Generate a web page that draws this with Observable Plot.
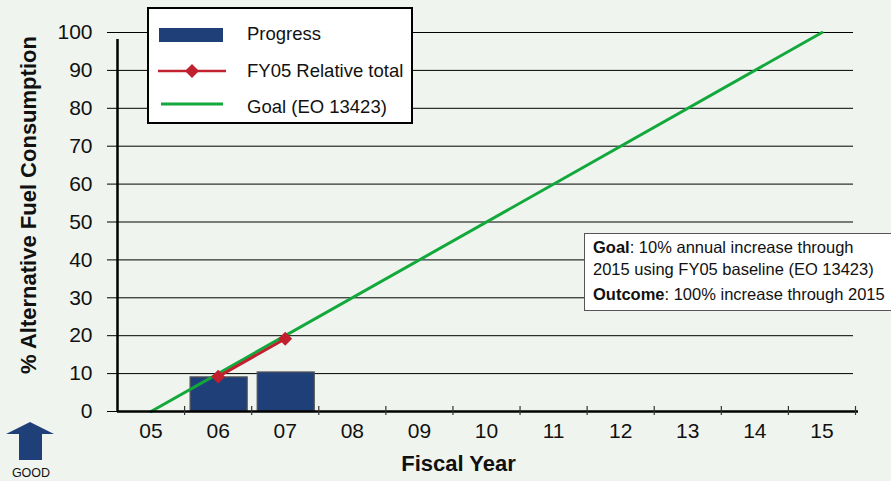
<!DOCTYPE html>
<html>
<head>
<meta charset="utf-8">
<script src="https://cdn.jsdelivr.net/npm/d3@7"></script>
<script src="https://cdn.jsdelivr.net/npm/@observablehq/plot@0.6"></script>
<style>
  html, body { margin: 0; padding: 0; background: #eff5ee; }
  body { width: 891px; height: 481px; overflow: hidden; font-family: "Liberation Sans", Arial, sans-serif; }
  #wrap { position: relative; width: 891px; height: 481px; }
  #legend { position: absolute; left: 147px; top: 7px; width: 266px; height: 117px; box-sizing: border-box;
    border: 2px solid #000; background: #fff; font-size: 18.5px; color: #111; }
  .li { position: absolute; left: 0; display: flex; align-items: center; }
  .li svg { display: block; }
  .li span { position: absolute; left: 98px; white-space: nowrap; }
  #note { position: absolute; left: 584px; top: 233px; width: 330px; height: 78px; box-sizing: border-box;
    border: 1.5px solid #555; background: #fff; font-size: 16.5px; color: #111; }
  #note div { position: absolute; left: 8px; white-space: nowrap; }
  #good { position: absolute; left: 4px; top: 420px; width: 54px; text-align: center; font-size: 12.5px; color: #111; }
</style>
</head>
<body>
<div id="wrap"></div>
<script>
// ---- data ----
const years = [5, 6, 7, 8, 9, 10, 11, 12, 13, 14, 15];
const yearLabels = ["05", "06", "07", "08", "09", "10", "11", "12", "13", "14", "15"];
const yTicks = [0, 10, 20, 30, 40, 50, 60, 70, 80, 90, 100];
const progressYears = [6, 7];
const progressValues = [9.0, 10.3];
const relativeYears = [6, 7];
const relativeValues = [9.2, 19.2];
const goalYears = [5, 15];
const goalValues = [0, 100];
const seriesNames = ["Progress", "FY05 Relative total", "Goal (EO 13423)"];
const yTitle = "% Alternative Fuel Consumption";
const xTitle = "Fiscal Year";

const BLUE = "#1e3f78", RED = "#c1202e", GREEN = "#13a83c";

const boundaries = years.map(y => y - 0.5).concat([years[years.length - 1] + 0.5]);

const chart = Plot.plot({
  width: 891,
  height: 481,
  marginLeft: 117,
  marginRight: 36,
  marginTop: 32,
  marginBottom: 70,
  style: { background: "transparent", fontFamily: "'Liberation Sans', Arial, sans-serif", color: "#111" },
  x: { type: "linear", domain: [boundaries[0], boundaries[boundaries.length - 1]] },
  y: { domain: [0, 100] },
  marks: [
    Plot.gridY({ ticks: yTicks, stroke: "#000", strokeOpacity: 1, strokeWidth: 1, insetRight: 2 }),
    Plot.axisY({ ticks: yTicks, tickSize: 10, tickPadding: 15, fontSize: 21, label: null, stroke: "#000" }),
    Plot.axisX({ ticks: years, tickSize: 0, tickPadding: 12, fontSize: 21, label: null,
      tickFormat: d => yearLabels[years.indexOf(d)] }),
    Plot.rectY(progressValues, {
      x1: progressYears.map(y => y - 0.5), x2: progressYears.map(y => y + 0.5), y: progressValues,
      insetLeft: 6, insetRight: 4, fill: BLUE, stroke: "#555", strokeWidth: 1.2
    }),
    Plot.line(goalValues, { x: goalYears, y: goalValues, stroke: GREEN, strokeWidth: 3 }),
    Plot.line(relativeValues, { x: relativeYears, y: relativeValues, stroke: RED, strokeWidth: 3 }),
    Plot.dot(relativeValues, { x: relativeYears, y: relativeValues, symbol: "diamond2", r: 5.3, fill: RED, stroke: RED }),
    Plot.ruleX([boundaries[0]], { x: d => d, y1: 0, y2: 100, stroke: "#000", strokeWidth: 2.5, insetBottom: -7 }),
    Plot.ruleY([0], { y: 0, stroke: "#000", strokeWidth: 2.5, insetRight: -3 }),
    Plot.ruleX(boundaries.slice(1), { x: d => d, y1: 0, y2: 0, insetTop: -5, insetBottom: -4, stroke: "#333", strokeWidth: 1.2 }),
    Plot.text([yTitle], { text: d => d, frameAnchor: "left", textAnchor: "middle", lineAnchor: "middle",
      rotate: -90, dx: -89, dy: -17, fontWeight: "bold", fontSize: 22, fill: "#111" }),
    Plot.text([xTitle], { text: d => d, frameAnchor: "bottom", textAnchor: "middle", lineAnchor: "middle",
      dx: -28, dy: 52, fontWeight: "bold", fontSize: 22, fill: "#111" })
  ]
});

const wrap = document.getElementById("wrap");
wrap.appendChild(chart);

// legend
const legend = document.createElement("div");
legend.id = "legend";
legend.innerHTML = `
  <div class="li" style="top:16px;">
    <svg width="90" height="18"><rect x="10" y="3" width="64" height="14" fill="${BLUE}"/></svg>
    <span style="top:-2px;">${seriesNames[0]}</span></div>
  <div class="li" style="top:53px;">
    <svg width="90" height="18"><line x1="9" x2="77" y1="9" y2="9" stroke="${RED}" stroke-width="2.5"/>
    <path d="M43,2 L50,9 L43,16 L36,9 Z" fill="${RED}"/></svg>
    <span>${seriesNames[1]}</span></div>
  <div class="li" style="top:86px;">
    <svg width="90" height="18"><line x1="12" x2="74" y1="9" y2="9" stroke="${GREEN}" stroke-width="3"/></svg>
    <span style="top:1px;">${seriesNames[2]}</span></div>`;
wrap.appendChild(legend);

// annotation
const note = document.createElement("div");
note.id = "note";
note.innerHTML = `
  <div style="top:4px;"><b>Goal</b>: 10% annual increase through</div>
  <div style="top:26px;">2015 using FY05 baseline (EO 13423)</div>
  <div style="top:51px;"><b>Outcome</b>: 100% increase through 2015</div>`;
wrap.appendChild(note);

// GOOD arrow
const good = document.createElement("div");
good.id = "good";
good.innerHTML = `<svg width="54" height="42" style="display:block">
  <path d="M2,14 L26,2 L50,14 L38,14 L38,40 L15,40 L15,14 Z" fill="${BLUE}"/></svg>
  <div style="margin-top:4px;">GOOD</div>`;
wrap.appendChild(good);
</script>
</body>
</html>
